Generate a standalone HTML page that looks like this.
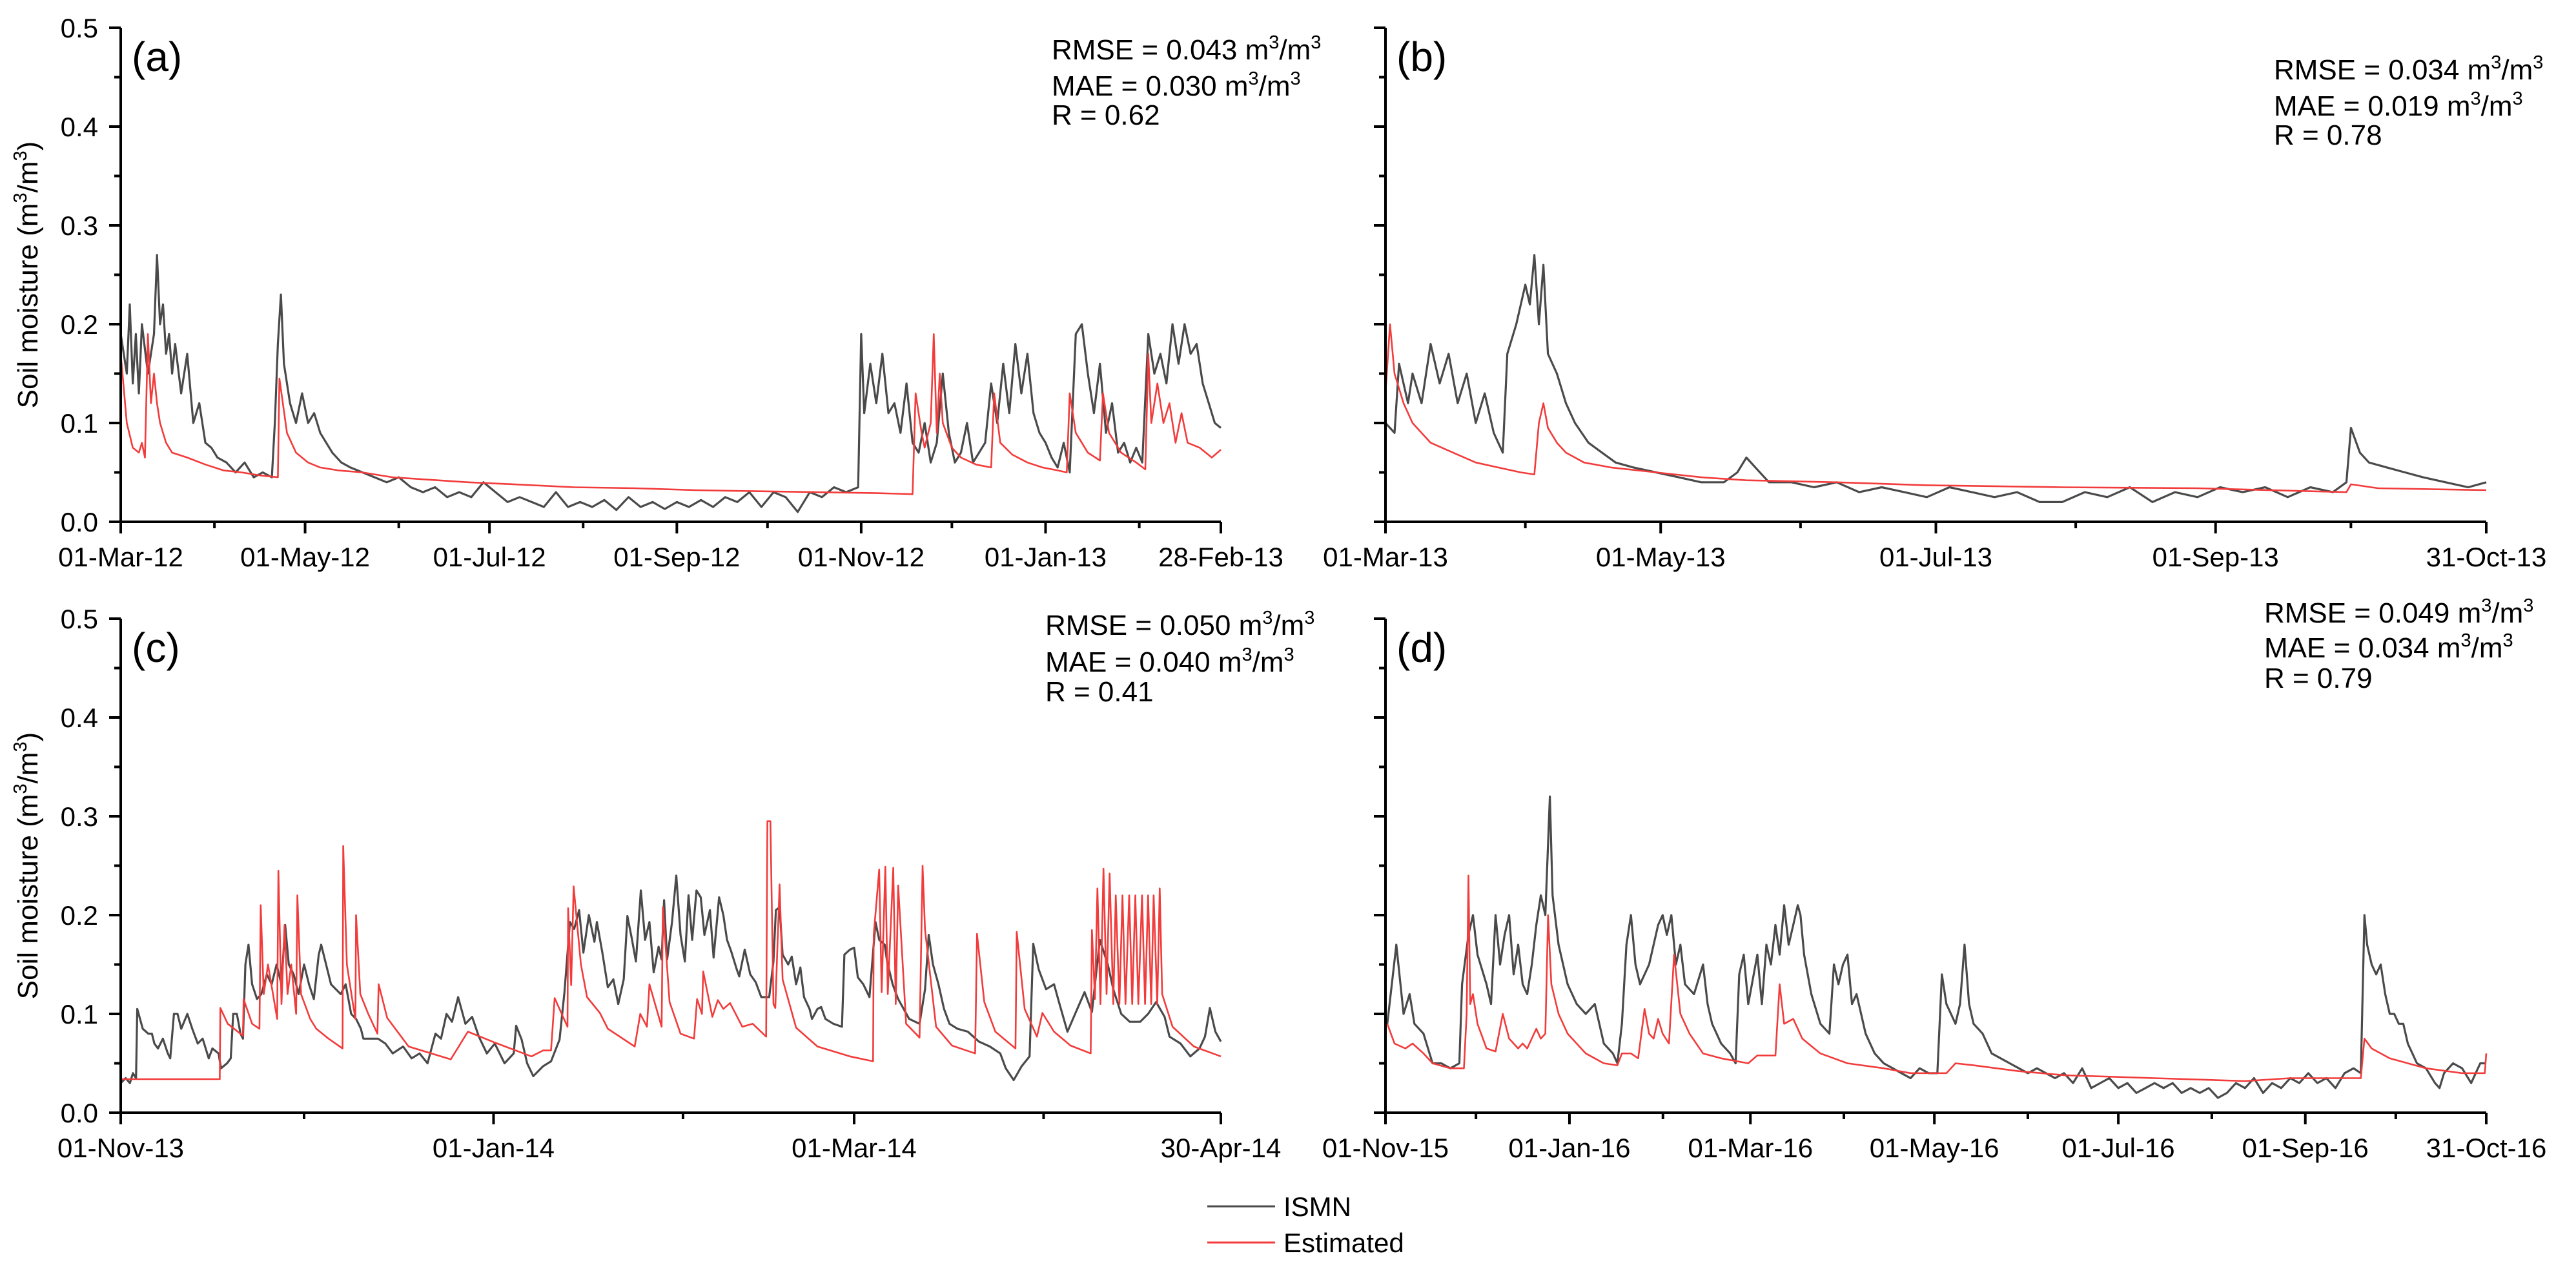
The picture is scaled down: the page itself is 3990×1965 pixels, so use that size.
<!DOCTYPE html>
<html><head><meta charset="utf-8"><style>
html,body{margin:0;padding:0;background:#fff}
svg{display:block}
text{font-family:"Liberation Sans",Arial,sans-serif;fill:#000}
</style></head><body>
<svg id="chart" xmlns="http://www.w3.org/2000/svg" width="3990" height="1965" viewBox="0 0 3990 1965">
<rect width="3990" height="1965" fill="#fff"/>
</svg>
<script>
// ---------- data (day offset from panel start, value m3/m3) ----------
const aIsmn=[[0,.19],[2,.15],[3,.22],[4,.14],[5,.19],[6,.13],[7,.2],[9,.15],[11,.19],[12,.27],[13,.2],[14,.22],[15,.17],[16,.19],[17,.15],[18,.18],[20,.13],[22,.17],[24,.1],[26,.12],[28,.08],[30,.075],[32,.065],[35,.06],[38,.05],[41,.06],[44,.045],[47,.05],[50,.045],[51,.1],[52,.18],[53,.23],[54,.16],[56,.12],[58,.1],[60,.13],[62,.1],[64,.11],[66,.09],[68,.08],[70,.07],[73,.06],[76,.055],[80,.05],[84,.045],[88,.04],[92,.045],[96,.035],[100,.03],[104,.035],[108,.025],[112,.03],[116,.025],[120,.04],[124,.03],[128,.02],[132,.025],[136,.02],[140,.015],[144,.03],[148,.015],[152,.02],[156,.015],[160,.022],[164,.012],[168,.025],[172,.015],[176,.02],[180,.013],[184,.02],[188,.015],[192,.022],[196,.015],[200,.025],[204,.02],[208,.03],[212,.015],[216,.03],[220,.025],[224,.01],[228,.03],[232,.025],[236,.035],[240,.03],[244,.035],[245,.19],[246,.11],[248,.16],[250,.12],[252,.17],[254,.11],[256,.12],[258,.09],[260,.14],[262,.08],[264,.07],[266,.1],[268,.06],[270,.08],[272,.15],[274,.09],[276,.06],[278,.07],[280,.1],[282,.06],[284,.07],[286,.08],[288,.14],[290,.1],[292,.16],[294,.11],[296,.18],[298,.13],[300,.17],[302,.11],[304,.09],[306,.08],[308,.065],[310,.055],[312,.08],[314,.05],[316,.19],[318,.2],[320,.15],[322,.11],[324,.16],[326,.09],[328,.12],[330,.07],[332,.08],[334,.06],[336,.075],[338,.06],[340,.19],[342,.15],[344,.17],[346,.14],[348,.2],[350,.16],[352,.2],[354,.17],[356,.18],[358,.14],[360,.12],[362,.1],[364,.095]];
const aEst=[[0,.17],[2,.1],[4,.075],[6,.07],[7,.08],[8,.065],[9,.19],[10,.12],[11,.15],[12,.12],[13,.1],[15,.08],[17,.07],[22,.065],[28,.058],[34,.052],[40,.05],[46,.047],[52,.045],[52.5,.145],[55,.09],[58,.07],[62,.06],[66,.055],[72,.052],[80,.05],[90,.045],[100,.043],[115,.04],[130,.038],[150,.035],[170,.034],[190,.032],[210,.031],[230,.03],[250,.029],[262,.028],[263,.13],[265,.09],[266,.075],[268,.1],[269,.19],[270,.09],[271,.15],[272,.1],[275,.075],[278,.065],[283,.058],[288,.055],[289,.13],[291,.08],[295,.068],[300,.06],[305,.055],[310,.052],[313,.05],[314,.13],[316,.09],[320,.07],[324,.062],[325,.13],[327,.09],[331,.07],[336,.06],[339,.053],[340,.17],[341,.1],[343,.14],[345,.1],[347,.12],[349,.08],[351,.11],[353,.08],[357,.075],[361,.065],[364,.073]];
const bIsmn=[[0,.1],[2,.09],[3,.16],[5,.12],[6,.15],[8,.12],[10,.18],[12,.14],[14,.17],[16,.12],[18,.15],[20,.1],[22,.13],[24,.09],[26,.07],[27,.17],[29,.2],[31,.24],[32,.22],[33,.27],[34,.2],[35,.26],[36,.17],[38,.15],[40,.12],[42,.1],[45,.08],[48,.07],[51,.06],[55,.055],[60,.05],[65,.045],[70,.04],[75,.04],[78,.05],[80,.065],[82,.055],[85,.04],[90,.04],[95,.035],[100,.04],[105,.03],[110,.035],[115,.03],[120,.025],[125,.035],[130,.03],[135,.025],[140,.03],[145,.02],[150,.02],[155,.03],[160,.025],[165,.035],[170,.02],[175,.03],[180,.025],[185,.035],[190,.03],[195,.035],[200,.025],[205,.035],[210,.03],[213,.04],[214,.095],[216,.07],[218,.06],[222,.055],[226,.05],[230,.045],[235,.04],[240,.035],[244,.04]];
const bEst=[[0,.13],[1,.2],[2,.15],[4,.12],[6,.1],[10,.08],[15,.07],[20,.06],[25,.055],[30,.05],[33,.048],[34,.1],[35,.12],[36,.095],[38,.08],[40,.07],[44,.06],[50,.055],[60,.05],[70,.045],[80,.042],[100,.04],[120,.037],[150,.035],[180,.034],[213,.03],[214,.038],[220,.034],[244,.032]];
const cIsmn=[[0,.03],[.8,.035],[1.5,.03],[2,.04],[2.5,.035],[2.7,.105],[3.6,.085],[4.5,.08],[5.1,.08],[5.5,.07],[6.1,.065],[6.9,.075],[7.7,.06],[8.1,.055],[8.7,.1],[9.3,.1],[9.9,.085],[10.9,.1],[11.7,.085],[12.6,.07],[13.4,.075],[14.4,.055],[15,.065],[16,.06],[16.4,.045],[17.4,.05],[18,.055],[18.4,.1],[19,.1],[19.6,.08],[20,.075],[20.4,.15],[20.9,.17],[21.5,.13],[22.3,.115],[23,.12],[23.9,.14],[24.7,.13],[25.5,.15],[26.3,.13],[26.9,.19],[27.5,.15],[28.3,.14],[29.1,.12],[30,.15],[30.8,.13],[31.6,.115],[32.4,.16],[32.8,.17],[33.6,.15],[34.4,.13],[35.2,.125],[36,.12],[36.8,.13],[37.7,.1],[38.5,.095],[39.3,.085],[39.7,.075],[40.9,.075],[42.1,.075],[43.3,.07],[44.5,.06],[46.2,.067],[47.6,.055],[48.9,.06],[50.2,.05],[51.5,.08],[52.4,.075],[53.3,.1],[54.2,.092],[55.2,.117],[56.4,.09],[57.5,.097],[58.6,.077],[59.9,.06],[61.2,.07],[62.8,.05],[64.3,.06],[64.7,.088],[65.6,.074],[66.5,.05],[67.5,.037],[69.1,.047],[70.4,.052],[71.8,.074],[72.6,.122],[73.5,.193],[74.2,.186],[75,.205],[75.7,.162],[76.6,.2],[77.5,.173],[77.9,.193],[78.8,.162],[79.7,.127],[80.6,.135],[81.4,.11],[82.3,.135],[82.9,.199],[83.6,.177],[84.3,.153],[85.1,.225],[85.8,.175],[86.5,.193],[87.2,.142],[88,.168],[88.5,.155],[88.9,.215],[89.4,.155],[90.2,.193],[90.9,.24],[91.6,.18],[92.3,.153],[92.9,.22],[93.5,.175],[94.2,.225],[94.9,.218],[95.5,.18],[96.4,.205],[97,.157],[97.9,.218],[98.6,.2],[99.2,.175],[99.9,.163],[100.8,.145],[101.2,.138],[102.1,.165],[103,.14],[103.9,.132],[104.8,.117],[106.1,.117],[106.8,.153],[107.2,.205],[107.8,.208],[108.3,.16],[109.2,.15],[109.8,.158],[110.5,.13],[111.2,.147],[111.8,.117],[112.7,.105],[113.1,.095],[114,.105],[114.6,.107],[115.3,.095],[116.6,.09],[118,.087],[118.4,.16],[119.3,.165],[120,.167],[120.6,.137],[121.5,.13],[122.5,.117],[123.5,.193],[124.1,.175],[125,.17],[125.4,.153],[126.3,.13],[127.2,.115],[128.1,.105],[129,.095],[130.7,.09],[131.6,.125],[132.2,.18],[132.9,.15],[133.8,.13],[134.7,.105],[135.6,.09],[136.9,.085],[138.6,.082],[140.4,.072],[142.2,.067],[143.9,.06],[144.8,.045],[146.1,.033],[147.4,.047],[148.7,.057],[149.3,.171],[150.2,.145],[151.4,.125],[152.7,.13],[153.6,.11],[154.9,.082],[156.3,.102],[157.7,.122],[158.9,.102],[160.2,.175],[161.5,.15],[162.4,.125],[163.7,.1],[165.1,.092],[166.8,.092],[168.1,.1],[169.4,.112],[170.8,.097],[171.6,.077],[173.4,.07],[175,.057],[176.5,.065],[177.4,.077],[178.2,.106],[179.1,.082],[180,.072]];
const cEst=[[0,.034],[16.2,.034],[16.3,.106],[17.5,.09],[20,.078],[20.1,.115],[21.5,.09],[22.7,.085],[22.9,.21],[23.4,.12],[24.1,.15],[25.6,.095],[25.8,.245],[26.3,.11],[26.8,.19],[27.3,.12],[27.9,.15],[28.7,.1],[28.9,.22],[29.5,.12],[31,.095],[32,.085],[34,.075],[36.3,.065],[36.4,.27],[37,.15],[38,.11],[38.4,.095],[38.5,.2],[39.2,.12],[40.5,.1],[42,.08],[42.2,.13],[43.6,.096],[47.1,.067],[54,.054],[56.8,.082],[61.2,.071],[67.2,.057],[69.1,.063],[70.4,.063],[71,.116],[73.1,.087],[73.2,.207],[73.7,.129],[74.1,.229],[75.3,.15],[76.3,.117],[78.4,.101],[79.7,.085],[84.1,.067],[85,.1],[86.1,.087],[86.5,.13],[88.5,.087],[88.7,.208],[89.8,.112],[91.6,.08],[93.8,.075],[94.3,.115],[95.1,.1],[95.3,.143],[96.8,.097],[97.7,.114],[98.6,.105],[99.7,.111],[101.7,.087],[103.4,.09],[105.6,.077],[105.8,.295],[106.3,.295],[106.8,.11],[107.1,.106],[107.8,.231],[108.3,.135],[110.5,.086],[114,.067],[119.3,.057],[123.1,.052],[123.2,.18],[124.1,.246],[124.5,.122],[125.1,.249],[125.5,.12],[126.4,.248],[126.8,.11],[127.2,.23],[128.5,.09],[130.7,.076],[131.2,.25],[131.6,.185],[133.4,.087],[136,.068],[139.8,.06],[140.1,.181],[141.3,.112],[143.1,.082],[146.4,.065],[146.6,.183],[147.9,.105],[149.9,.077],[150.8,.101],[152.7,.082],[155.4,.068],[158.7,.06],[158.9,.185],[159.4,.115],[159.8,.227],[160.3,.11],[160.8,.247],[161.3,.12],[161.8,.242],[162.4,.11],[162.8,.22],[163.4,.11],[163.9,.22],[164.4,.11],[165,.22],[165.5,.11],[166,.22],[166.5,.11],[167.1,.22],[167.6,.11],[168.1,.22],[168.6,.11],[169,.22],[169.6,.11],[170,.227],[170.4,.12],[172.1,.087],[175.6,.067],[180,.057]];
const dIsmn=[[.6,.09],[3.6,.17],[6,.1],[8,.12],[9.6,.09],[12.6,.08],[15.6,.05],[18.5,.05],[21.5,.045],[24.5,.05],[25.4,.13],[27.5,.18],[29,.2],[30.5,.16],[33.5,.13],[35,.11],[36.5,.2],[38,.15],[39.5,.18],[41,.2],[42.5,.14],[44,.17],[45.5,.13],[47,.12],[48.5,.15],[50,.19],[51.5,.22],[53,.2],[54.5,.32],[55.4,.22],[57.4,.17],[60.4,.13],[63.4,.11],[66.4,.1],[69.4,.11],[72.4,.07],[75.4,.06],[76.9,.05],[78.4,.09],[79.9,.17],[81.4,.2],[82.9,.15],[84.4,.13],[87.4,.15],[90.4,.19],[91.9,.2],[93.3,.18],[94.8,.2],[96.3,.15],[97.8,.17],[99.3,.13],[102.3,.12],[105.3,.15],[106.8,.11],[108.3,.09],[111.3,.07],[114.3,.06],[116.1,.05],[117.3,.14],[118.8,.16],[120.3,.11],[123.3,.16],[124.8,.11],[126.3,.17],[127.8,.15],[129.3,.19],[130.7,.16],[132.2,.21],[133.7,.17],[135.2,.19],[136.7,.21],[137.6,.2],[138.8,.16],[141.2,.12],[144.2,.09],[147.2,.08],[148.7,.15],[150.2,.13],[151.7,.15],[153.2,.16],[154.7,.11],[156.2,.12],[157.7,.1],[159.2,.08],[162.2,.06],[165.2,.05],[168.2,.045],[171.1,.04],[174.1,.035],[177.1,.045],[180.1,.04],[183,.04],[184.5,.14],[186,.11],[187.5,.1],[189,.09],[190.5,.11],[192,.17],[193.5,.11],[195,.09],[198,.08],[201,.06],[204,.055],[207,.05],[210,.045],[213,.04],[216,.045],[219,.04],[222,.035],[225,.04],[228,.03],[231,.045],[234,.025],[237,.03],[240,.035],[243,.025],[246,.03],[249,.02],[252,.025],[255,.03],[258,.025],[261,.03],[264,.02],[267,.025],[270,.02],[273,.025],[276,.015],[279,.02],[282,.03],[285,.025],[288,.035],[291,.02],[294,.03],[297,.025],[300,.035],[303,.03],[306,.04],[309,.03],[312,.035],[315,.025],[318,.04],[321,.045],[323.4,.04],[324.6,.2],[325.5,.17],[327,.15],[328.5,.14],[330,.15],[331.5,.12],[333,.1],[334.5,.1],[336,.09],[337.5,.09],[339,.07],[340.5,.06],[342,.05],[345,.045],[348,.03],[349.5,.025],[351,.04],[354,.05],[357,.045],[360,.03],[363,.05],[365,.05]];
const dEst=[[.6,.09],[3,.07],[6.6,.065],[9,.07],[12.6,.06],[15.6,.05],[21.5,.045],[26,.045],[26.9,.1],[27.5,.24],[28.1,.11],[29,.12],[30.5,.09],[33.5,.065],[36.5,.062],[38.9,.1],[41,.075],[44,.065],[45.5,.07],[47,.065],[50,.085],[51.5,.075],[53,.08],[53.9,.2],[55,.13],[57.4,.1],[60.4,.08],[66.4,.06],[72.4,.05],[76.9,.048],[78.4,.06],[81.4,.06],[83.8,.055],[85.9,.105],[87.4,.08],[88.9,.075],[90.4,.095],[91.9,.08],[94,.07],[95.7,.16],[97.8,.1],[100.8,.08],[105.3,.06],[111.3,.055],[120.3,.05],[123.3,.058],[129.3,.058],[130.7,.13],[132.2,.09],[135.2,.095],[138.2,.075],[144.2,.06],[153.2,.05],[165.2,.045],[174.1,.04],[186,.04],[189,.05],[195,.048],[210,.042],[225,.038],[255,.035],[285,.032],[300,.035],[323.4,.035],[324.6,.075],[327,.065],[333,.055],[345,.045],[357,.04],[364.5,.04],[365,.06]];

const yTicks=[0,0.1,0.2,0.3,0.4,0.5];
const yTickLabels=['0.0','0.1','0.2','0.3','0.4','0.5'];
const aTicks=[0,61,122,184,245,306,364];
const aTickLabels=['01-Mar-12','01-May-12','01-Jul-12','01-Sep-12','01-Nov-12','01-Jan-13','28-Feb-13'];
const aMinor=[31,92,153,214,275,337];
const bTicks=[0,61,122,184,244];
const bTickLabels=['01-Mar-13','01-May-13','01-Jul-13','01-Sep-13','31-Oct-13'];
const bMinor=[31,92,153,214];
const cTicks=[0,61,120,180];
const cTickLabels=['01-Nov-13','01-Jan-14','01-Mar-14','30-Apr-14'];
const cMinor=[30,92,151];
const dTicks=[0,61,121,182,243,305,365];
const dTickLabels=['01-Nov-15','01-Jan-16','01-Mar-16','01-May-16','01-Jul-16','01-Sep-16','31-Oct-16'];
const dMinor=[30,92,152,213,274,335];
const stats={a:['0.043','0.030','0.62'],b:['0.034','0.019','0.78'],c:['0.050','0.040','0.41'],d:['0.049','0.034','0.79']};

const NS='http://www.w3.org/2000/svg';
const svg=document.getElementById('chart');
function mk(tag,attrs,parent){const e=document.createElementNS(NS,tag);for(const k in attrs)e.setAttribute(k,attrs[k]);(parent||svg).appendChild(e);return e;}

const panels=[
 {id:'a',x0:187,x1:1891,yT:43,yB:808,days:364,ism:aIsmn,est:aEst,ticks:aTicks,labels:aTickLabels,minor:aMinor,sx:1629,sy:[92,148,193],showY:true},
 {id:'b',x0:2146,x1:3851,yT:43,yB:808,days:244,ism:bIsmn,est:bEst,ticks:bTicks,labels:bTickLabels,minor:bMinor,sx:3522,sy:[123,179,224],showY:false},
 {id:'c',x0:187,x1:1891,yT:958,yB:1723,days:180,ism:cIsmn,est:cEst,ticks:cTicks,labels:cTickLabels,minor:cMinor,sx:1619,sy:[983,1040,1086],showY:true},
 {id:'d',x0:2146,x1:3851,yT:958,yB:1723,days:365,ism:dIsmn,est:dEst,ticks:dTicks,labels:dTickLabels,minor:dMinor,sx:3507,sy:[964,1018,1065],showY:false}
];

panels.forEach(p=>{
 const g=mk('g',{});
 
 
 const X=d=>p.x0+(p.x1-p.x0)*d/p.days;
 const Y=v=>p.yB-(p.yB-p.yT)*v/0.5;
 const path=(arr)=>arr.map((q,i)=>(i?'L':'M')+X(q[0]).toFixed(1)+','+Y(q[1]).toFixed(1)).join('');
 const li=mk('path',{d:path(p.ism),fill:'none',stroke:'#4a4a4a','stroke-width':3.2,'stroke-linejoin':'round'},g);
 
 
 const le=mk('path',{d:path(p.est),fill:'none',stroke:'#f23b3b','stroke-width':2.6,'stroke-linejoin':'round'},g);
 
 
 const ax=mk('path',{d:`M${p.x0},${p.yT}V${p.yB}H${p.x1}`,fill:'none',stroke:'#000','stroke-width':4},g);
 
 
 yTicks.forEach((v,i)=>{
  mk('line',{x1:p.x0-18,x2:p.x0,y1:Y(v),y2:Y(v),stroke:'#000','stroke-width':4},g);
  if(i<yTicks.length-1){const m=(v+yTicks[i+1])/2;mk('line',{x1:p.x0-10,x2:p.x0,y1:Y(m),y2:Y(m),stroke:'#000','stroke-width':4},g);}
  if(p.showY){const t=mk('text',{x:p.x0-35,y:Y(v)+15,'text-anchor':'end','font-size':42},g);t.textContent=yTickLabels[i];
   
   }
 });
 p.ticks.forEach((d,i)=>{
  mk('line',{x1:X(d),x2:X(d),y1:p.yB,y2:p.yB+18,stroke:'#000','stroke-width':4},g);
  const t=mk('text',{x:X(d),y:p.yB+69,'text-anchor':'middle','font-size':42},g);t.textContent=p.labels[i];
  
  
 });
 p.minor.forEach(d=>mk('line',{x1:X(d),x2:X(d),y1:p.yB,y2:p.yB+10,stroke:'#000','stroke-width':4},g));
 const pl=mk('text',{x:p.x0+17,y:p.yT+67,'font-size':64},g);pl.textContent='('+p.id+')';
 
 
 const s=stats[p.id];
 const mkStat=(y,pre,val,unit)=>{
  const t=mk('text',{x:p.sx,y:y,'font-size':44},g);
  
  
  if(unit){t.innerHTML=`${pre}${val} m<tspan dy="-17" font-size="29">3</tspan><tspan dy="17">/m</tspan><tspan dy="-17" font-size="29">3</tspan>`;}
  else t.textContent=pre+val;
 };
 mkStat(p.sy[0],'RMSE = ',s[0],true);
 mkStat(p.sy[1],'MAE = ',s[1],true);
 mkStat(p.sy[2],'R = ',s[2],false);
 if(p.showY){
  const cy=(p.yT+p.yB)/2;
  const t=mk('text',{x:0,y:0,'font-size':44,'text-anchor':'middle',transform:`translate(58,${cy}) rotate(-90)`},g);
  t.innerHTML='Soil moisture (m<tspan dy="-17" font-size="29">3</tspan><tspan dy="17">/m</tspan><tspan dy="-17" font-size="29">3</tspan><tspan dy="17">)</tspan>';
  
  
 }
});

const lg=mk('g',{});


mk('line',{x1:1870,x2:1975,y1:1868,y2:1868,stroke:'#4a4a4a','stroke-width':3},lg);
mk('line',{x1:1870,x2:1975,y1:1924,y2:1924,stroke:'#f23b3b','stroke-width':3},lg);
const t1=mk('text',{x:1988,y:1883,'font-size':42},lg);t1.textContent='ISMN';


const t2=mk('text',{x:1988,y:1939,'font-size':42},lg);t2.textContent='Estimated';


</script>
</body></html>
